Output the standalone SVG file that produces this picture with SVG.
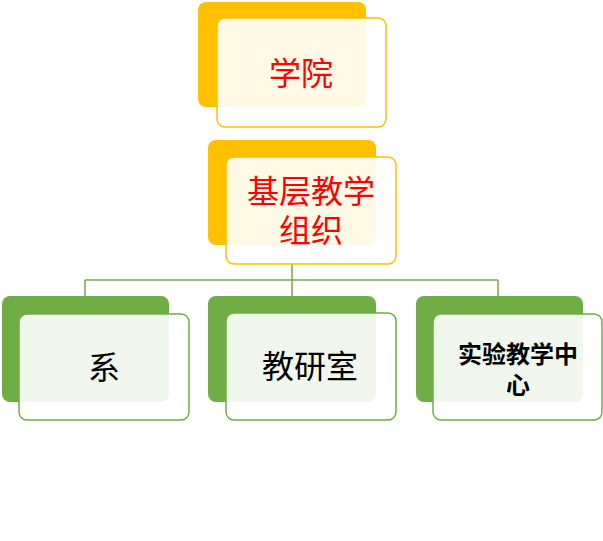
<svg xmlns="http://www.w3.org/2000/svg" width="603" height="541" viewBox="0 0 603 541">
<style>
.bo{fill:#FFC000}
.fo{fill:#FFFFFF;fill-opacity:0.9;stroke:#FFC000;stroke-width:1.5}
.bg{fill:#70AD47}
.fg{fill:#FFFFFF;fill-opacity:0.9;stroke:#70AD47;stroke-width:1.5}
.t{font-family:"Noto Sans CJK SC","Noto Sans",sans-serif;text-anchor:middle;dominant-baseline:central}
.red{fill:#FF0000;font-size:32px}
.blk{fill:#000000;font-size:32px}
.bld{fill:#000000;font-size:24px;font-weight:bold}
.c{stroke:#70AD47;stroke-width:1.5;fill:none}
</style>
<rect width="603" height="541" fill="#FFFFFF"/>
<g id="connectors">
<path class="c" d="M292 264 V280 M85 280 H498 M85 280 V296 M292 280 V296 M498 280 V296"/>
</g>
<g id="node-xueyuan">
<rect class="bo" x="198" y="2" width="168" height="105" rx="8"/>
<rect class="fo" x="217" y="18" width="169" height="109" rx="8"/>
<text class="t red" x="301" y="71">学院</text>
</g>
<g id="node-jiceng">
<rect class="bo" x="208" y="140" width="168" height="105" rx="8"/>
<rect class="fo" x="226" y="157" width="170" height="107" rx="8"/>
<text class="t red"><tspan x="311" y="189">基层教学</tspan><tspan x="311" y="228">组织</tspan></text>
</g>
<g id="node-xi">
<rect class="bg" x="2" y="296" width="167" height="106" rx="8"/>
<rect class="fg" x="19" y="314" width="170" height="106" rx="8"/>
<text class="t blk" x="104" y="365">系</text>
</g>
<g id="node-jiaoyanshi">
<rect class="bg" x="208" y="296" width="168" height="106" rx="8"/>
<rect class="fg" x="226" y="313" width="170" height="107" rx="8"/>
<text class="t blk" x="310" y="364">教研室</text>
</g>
<g id="node-shiyan">
<rect class="bg" x="416" y="296" width="167" height="106" rx="8"/>
<rect class="fg" x="433" y="314" width="169" height="106" rx="8"/>
<text class="t bld"><tspan x="518" y="352">实验教学中</tspan><tspan x="518" y="383">心</tspan></text>
</g>
</svg>
